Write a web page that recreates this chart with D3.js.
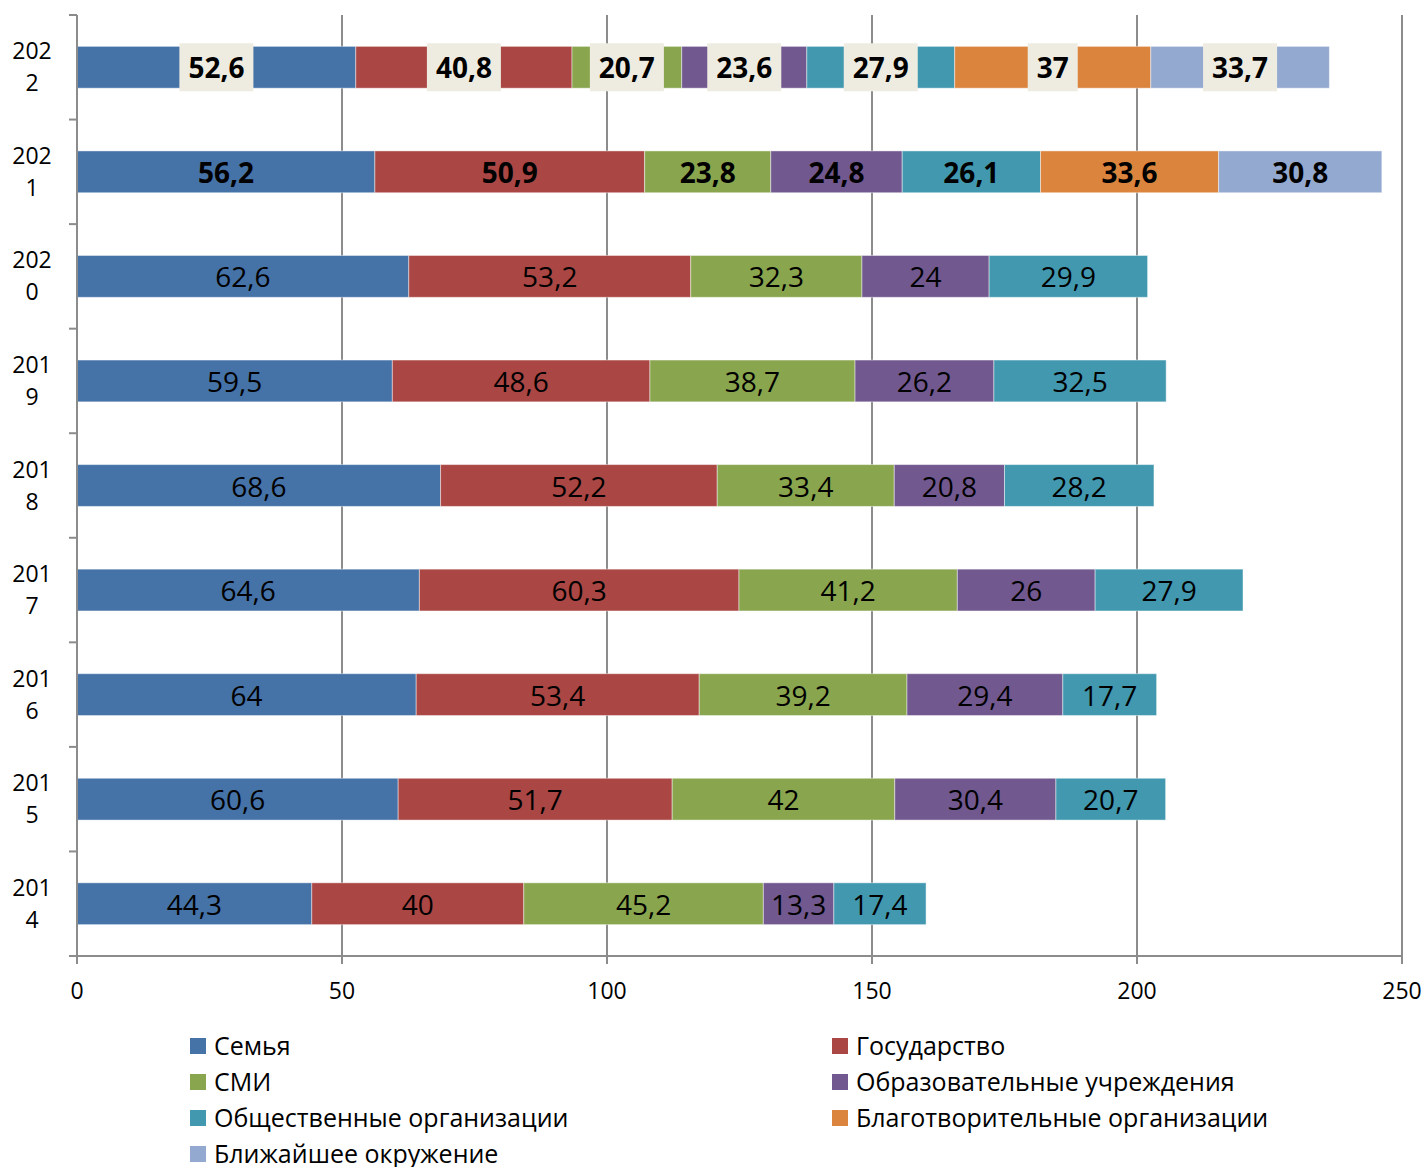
<!DOCTYPE html>
<html>
<head>
<meta charset="utf-8">
<script src="https://cdn.jsdelivr.net/npm/d3@7"></script>
<style>
  html, body { margin: 0; padding: 0; background: #fff; }
  svg text { font-family: "Open Sans", "Noto Sans", sans-serif; }
</style>
</head>
<body>
<svg id="chart" width="1427" height="1167"></svg>
<script>
// Survey years, one bar per year (drawn top-down from newest)
const years = ["2014", "2015", "2016", "2017", "2018", "2019", "2020", "2021", "2022"];

// Series names, in stacking order
const seriesNames = [
  "Семья",
  "Государство",
  "СМИ",
  "Образовательные учреждения",
  "Общественные организации",
  "Благотворительные организации",
  "Ближайшее окружение"
];

// Values per series, aligned with `years` (null = not asked that year)
const family      = [44.3, 60.6, 64, 64.6, 68.6, 59.5, 62.6, 56.2, 52.6];
const state       = [40, 51.7, 53.4, 60.3, 52.2, 48.6, 53.2, 50.9, 40.8];
const media       = [45.2, 42, 39.2, 41.2, 33.4, 38.7, 32.3, 23.8, 20.7];
const education   = [13.3, 30.4, 29.4, 26, 20.8, 26.2, 24, 24.8, 23.6];
const publicOrgs  = [17.4, 20.7, 17.7, 27.9, 28.2, 32.5, 29.9, 26.1, 27.9];
const charity     = [null, null, null, null, null, null, null, 33.6, 37];
const closeCircle = [null, null, null, null, null, null, null, 30.8, 33.7];

// Axis ticks
const xTicks = [0, 50, 100, 150, 200, 250];

const seriesValues = [family, state, media, education, publicOrgs, charity, closeCircle];
const colors = ["#4572A7", "#AA4643", "#89A54E", "#71588F", "#4198AF", "#DB843D", "#93A9CF"];

// Build a row table for d3.stack
const rows = years.map((y, i) => {
  const r = { year: y };
  seriesNames.forEach((s, j) => { r[s] = seriesValues[j][i] == null ? 0 : seriesValues[j][i]; });
  return r;
});

const svg = d3.select("#chart");
const margin = { left: 77, right: 25, top: 15, bottom: 211 };

const x = d3.scaleLinear().domain([0, 250]).range([margin.left, 1402]);
const y = d3.scaleBand()
  .domain(years.slice().reverse())
  .range([margin.top, 956])
  .paddingInner(0.6)
  .paddingOuter(0.3);

const gridColor = "#8c8c8c";

// Vertical gridlines
svg.append("g").selectAll("line")
  .data(xTicks.slice(1))
  .join("line")
  .attr("x1", d => x(d)).attr("x2", d => x(d))
  .attr("y1", margin.top).attr("y2", 956)
  .attr("stroke", gridColor).attr("stroke-width", 2);

// Stacked bars
const stack = d3.stack().keys(seriesNames);
const layers = stack(rows);

const fmt = v => String(v).replace(".", ",");

const barG = svg.append("g");
layers.forEach((layer, j) => {
  barG.append("g").selectAll("rect")
    .data(layer.filter(d => d[1] - d[0] > 0))
    .join("rect")
    .attr("x", d => x(d[0]))
    .attr("y", d => y(d.data.year))
    .attr("width", d => x(d[1]) - x(d[0]))
    .attr("height", y.bandwidth())
    .attr("fill", colors[j])
    .attr("stroke", "#ffffff")
    .attr("stroke-opacity", 0.45)
    .attr("stroke-width", 1);
});

// Value labels
const labelG = svg.append("g");
layers.forEach((layer, j) => {
  layer.filter(d => d[1] - d[0] > 0).forEach(d => {
    const yr = d.data.year;
    const cx = (x(d[0]) + x(d[1])) / 2;
    const cy = y(yr) + y.bandwidth() / 2;
    const bold = (yr === "2021" || yr === "2022");
    const g = labelG.append("g");
    const t = g.append("text")
      .attr("x", cx)
      .attr("y", cy + 11)
      .attr("text-anchor", "middle")
      .attr("font-size", 28)
      .attr("font-weight", bold ? 700 : 400)
      .attr("fill", "#000")
      .text(fmt(d.data[seriesNames[j]]));
    if (yr === "2022") {
      const bb = t.node().getBBox();
      g.insert("rect", "text")
        .attr("x", cx - bb.width / 2 - 9)
        .attr("y", cy - 24)
        .attr("width", bb.width + 18)
        .attr("height", 48)
        .attr("fill", "#EEECE1");
    }
  });
});

// Y axis line and ticks at category boundaries
const axisColor = "#8c8c8c";
svg.append("line")
  .attr("x1", margin.left).attr("x2", margin.left)
  .attr("y1", margin.top).attr("y2", 956)
  .attr("stroke", axisColor).attr("stroke-width", 2);

const bounds = d3.range(years.length + 1).map(i => margin.top + i * y.step());
svg.append("g").selectAll("line")
  .data(bounds)
  .join("line")
  .attr("x1", 69).attr("x2", margin.left)
  .attr("y1", d => d).attr("y2", d => d)
  .attr("stroke", axisColor).attr("stroke-width", 2);

// Year labels, wrapped as in a narrow axis column
const yLab = svg.append("g");
years.forEach(yr => {
  const cy = y(yr) + y.bandwidth() / 2;
  const t = yLab.append("text")
    .attr("text-anchor", "middle")
    .attr("font-size", 23)
    .attr("fill", "#000");
  t.append("tspan").attr("x", 32).attr("y", cy - 8).text(yr.slice(0, 3));
  t.append("tspan").attr("x", 32).attr("y", cy + 24).text(yr.slice(3));
});

// X axis
svg.append("line")
  .attr("x1", 69).attr("x2", 1402)
  .attr("y1", 956).attr("y2", 956)
  .attr("stroke", axisColor).attr("stroke-width", 2);

svg.append("g").selectAll("line")
  .data(xTicks)
  .join("line")
  .attr("x1", d => x(d)).attr("x2", d => x(d))
  .attr("y1", 956).attr("y2", 964)
  .attr("stroke", axisColor).attr("stroke-width", 2);

svg.append("g").selectAll("text")
  .data(xTicks)
  .join("text")
  .attr("x", d => x(d))
  .attr("y", 999)
  .attr("text-anchor", "middle")
  .attr("font-size", 23)
  .attr("fill", "#000")
  .text(d => d);

// Legend: two columns
const legend = svg.append("g");
seriesNames.forEach((s, i) => {
  const col = i % 2, row = Math.floor(i / 2);
  const lx = col === 0 ? 190 : 832;
  const ly = 1055 + row * 36;
  legend.append("rect")
    .attr("x", lx).attr("y", ly - 17)
    .attr("width", 16).attr("height", 16)
    .attr("fill", colors[i]);
  legend.append("text")
    .attr("x", lx + 24).attr("y", ly)
    .attr("font-size", 25)
    .attr("fill", "#000")
    .text(s);
});
</script>
</body>
</html>
